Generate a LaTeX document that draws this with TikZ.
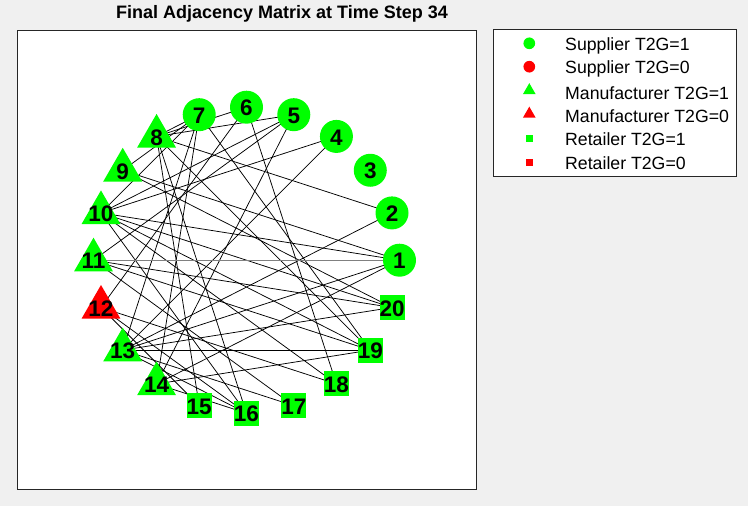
\documentclass[tikz,border=0pt]{standalone}
\usepackage{fontspec}
\setmainfont{Liberation Sans}
\usetikzlibrary{shapes.geometric}
\pgfdeclarelayer{back}
\pgfdeclarelayer{bg}
\pgfsetlayers{back,bg,main}
\definecolor{figbg}{RGB}{240,240,240}
\definecolor{mgreen}{RGB}{0,255,0}
\definecolor{mred}{RGB}{255,0,0}
\definecolor{axcol}{RGB}{38,38,38}
\definecolor{aagray}{RGB}{128,128,128}
\begin{document}
\begin{tikzpicture}[x=1pt,y=-1pt,
  supp/.style={circle,fill=#1,minimum size=33pt,inner sep=0pt},
  manu/.style={regular polygon,regular polygon sides=3,fill=#1,minimum size=45pt,inner sep=0pt},
  reta/.style={rectangle,fill=#1,minimum size=25pt,inner sep=0pt},
  lsupp/.style={circle,fill=#1,minimum size=11.7pt,inner sep=0pt},
  lmanu/.style={regular polygon,regular polygon sides=3,fill=#1,minimum size=14.7pt,inner sep=0pt},
  lreta/.style={rectangle,fill=#1,minimum size=7.3pt,inner sep=0pt},
  lbl/.style={font=\bfseries\fontsize{22.5}{24}\selectfont,inner sep=0pt,text=black},
  legtext/.style={font=\fontsize{17.7}{20}\selectfont,anchor=west,inner sep=0pt},
  edge/.style={draw=black,line width=0.75pt},
  grayedge/.style={draw=aagray,line width=1.4pt}]
\useasboundingbox (0,0) rectangle (748,506);
\begin{pgfonlayer}{back}
\fill[figbg] (0,0) rectangle (748,506);
\draw[axcol,line width=0.8pt,fill=white] (17,30) rectangle (476,489);
\end{pgfonlayer}
\node[font=\bfseries\fontsize{18}{20}\selectfont] (title) at (282,14) {Final Adjacency Matrix at Time Step 34};
% nodes
\foreach \k in {1,...,7}
  \node[supp=mgreen] (n\k) at ({246.5+153*cos((\k-1)*18)},{260.2-153*sin((\k-1)*18)}) {};
\foreach \k in {8,9,10,11,13,14}
  \node[manu=mgreen] (n\k) at ({246.5+153*cos((\k-1)*18)},{260.2-153*sin((\k-1)*18)}) {};
\node[manu=mred] (n12) at ({246.5+153*cos(11*18)},{260.2-153*sin(11*18)}) {};
\foreach \k in {15,...,20}
  \node[reta=mgreen] (n\k) at ({246.5+153*cos((\k-1)*18)},{260.2-153*sin((\k-1)*18)}) {};
\foreach \k in {1,...,20}
  \node[lbl] (t\k) at ([yshift=-1pt]n\k.center) {\k};
% edges
\begin{pgfonlayer}{bg}
\foreach \a/\b in {1/9,1/10,1/13,1/14,2/8,2/13,4/10,4/13,5/8,5/10,5/11,5/14,6/8,6/12,6/18,
  7/8,7/9,7/10,7/13,7/14,7/19,8/15,8/16,8/19,9/20,10/16,10/18,10/19,10/20,
  11/17,11/19,11/20,12/15,12/16,12/18,13/16,13/17,13/19,13/20,14/16,14/19}
  \draw[edge] (n\a.center) -- (n\b.center);
\draw[grayedge] (n1.center) -- (n11.center);
\end{pgfonlayer}
% legend
\draw[axcol,line width=0.8pt,fill=white] (493.3,29.3) rectangle (736.7,176);
\node[lsupp=mgreen] (ls1) at (529.3,43.3) {};
\node[lsupp=mred] (ls0) at (529.3,66.7) {};
\node[lmanu=mgreen] (lm1) at (529.3,90.5) {};
\node[lmanu=mred] (lm0) at (529.3,114) {};
\node[lreta=mgreen] (lr1) at (529.3,138.8) {};
\node[lreta=mred] (lr0) at (529.3,162.2) {};
\node[legtext] (x1) at (565,46) {Supplier T2G=1};
\node[legtext] (x2) at (565,69.3) {Supplier T2G=0};
\node[legtext] (x3) at (565,92.7) {Manufacturer T2G=1};
\node[legtext] (x4) at (565,116.2) {Manufacturer T2G=0};
\node[legtext] (x5) at (565,139.6) {Retailer T2G=1};
\node[legtext] (x6) at (565,163) {Retailer T2G=0};
\end{tikzpicture}
\end{document}
